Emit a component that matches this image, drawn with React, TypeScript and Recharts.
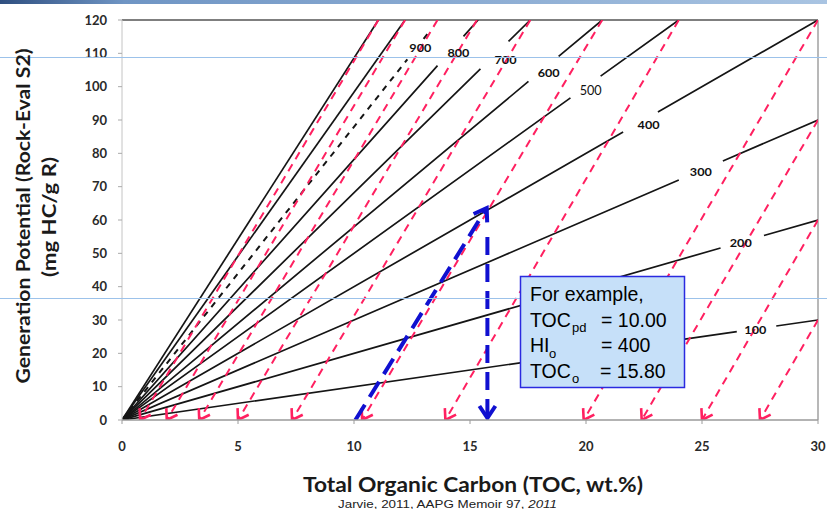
import React from 'react';
import { ComposedChart, Line, XAxis, YAxis, ReferenceLine, Scatter } from 'recharts';

// ---- axis ticks ----
const xTicks = [0, 5, 10, 15, 20, 25, 30];
const yTicks = [0, 10, 20, 30, 40, 50, 60, 70, 80, 90, 100, 110, 120];

// ---- HI lines (from origin to where each meets the frame) ----
const hiNames = ['100', '200', '300', '400', '500', '600', '700', '800', '900', '1000', '1100'];
const hiEndX = [30, 30, 30, 30, 24, 20.7, 17.6, 15.35, 13.3, 12.2, 11.05];
const hiEndY = [30, 60, 90, 120, 120, 120, 120, 120, 117, 120, 120];
const hiGapStart = [26.5, 25.8, 24.0, 21.6, 19.33, 17.52, 15.45, 13.6, 12.3, null, null];
const hiGapEnd = [28.2, 27.67, 25.9, 23.1, 20.63, 18.82, 16.66, 14.72, 13.0, null, null];
const hiDashed = ['900'];

// ---- HI line labels ----
const hiLabelText = ['100', '200', '300', '400', '500', '600', '700', '800', '900'];
const hiLabelX = [27.3, 26.67, 24.95, 22.7, 20.2, 18.39, 16.53, 14.5, 12.86];
const hiLabelY = [27.0, 53.1, 74.4, 88.5, 99.0, 104.1, 108.0, 110.1, 111.6];

// ---- red conversion lines: from frame point down to TOCpd on the x-axis ----
const redTopX = [11.05, 12.2, 13.6, 15.3, 17.6, 20.7, 24.0, 30, 30, 30, 30];
const redTopY = [120, 120, 120, 120, 120, 120, 120, 120, 90, 60, 30];
const redBaseX = [0.78, 1.93, 3.33, 5.0, 7.33, 10.35, 13.94, 19.9, 22.4, 25.0, 27.5];

// ---- worked example (blue) ----
const exampleUp = [
  { x: 10.06, y: 0 },
  { x: 15.72, y: 63.6 },
];
const exampleDown = [
  { x: 15.75, y: 54.9 },
  { x: 15.75, y: 0.6 },
];

const hiSeries = hiNames.map((name, i) => {
  const ex = hiEndX[i];
  const ey = hiEndY[i];
  const k = ey / ex;
  const gs = hiGapStart[i];
  const ge = hiGapEnd[i];
  const pts: any[] = [{ x: 0, y: 0 }];
  if (gs !== null && ge !== null) {
    pts.push({ x: gs, y: gs * k });
    pts.push({ x: (gs + ge) / 2, y: null });
    pts.push({ x: ge, y: ge * k });
  }
  pts.push({ x: ex, y: ey });
  return { name, data: pts, dashed: hiDashed.includes(name) };
});

const redSeries = redBaseX.map((bx, i) => ({
  name: 'red' + i,
  data: [
    { x: redTopX[i], y: redTopY[i] },
    { x: bx, y: 0 },
  ],
}));

const labelData = hiLabelText.map((t, i) => ({ x: hiLabelX[i], y: hiLabelY[i], label: t }));

const renderLabel = (p: any) => {
  const big = p.payload.label === '500';
  return (
    <text
      x={p.cx}
      y={p.cy}
      textAnchor="middle"
      dominantBaseline="central"
      fontFamily="Lato, 'DejaVu Sans', sans-serif"
      fontSize={big ? 13 : 10.5}
      fontWeight={big ? 400 : 700}
      fill="#111"
      textLength={22}
      lengthAdjust="spacingAndGlyphs"
    >
      {p.payload.label}
    </text>
  );
};

const tickFont = { fill: '#2a2a2a', fontSize: 13, fontWeight: 700, fontFamily: 'Lato, sans-serif' };

export default function App() {
  return (
    <div style={{ position: 'absolute', left: 0, top: 0, width: 827, height: 509, background: '#fff', overflow: 'hidden' }}>
      <ComposedChart width={827} height={509} margin={{ top: 20, right: 9, bottom: 59, left: 62 }}>
        <XAxis
          type="number"
          dataKey="x"
          domain={[0, 30]}
          ticks={xTicks}
          interval={0}
          allowDataOverflow
          height={30}
          tickSize={4}
          tickMargin={18}
          axisLine={{ stroke: '#9a9a9a', strokeWidth: 1.5 }}
          tickLine={{ stroke: '#9a9a9a' }}
          tick={tickFont}
        />
        <YAxis
          type="number"
          dataKey="y"
          domain={[0, 120]}
          ticks={yTicks}
          interval={0}
          allowDataOverflow
          width={60}
          tickSize={4}
          tickMargin={11}
          axisLine={{ stroke: '#c4c4c4' }}
          tickLine={{ stroke: '#aaa' }}
          tick={tickFont}
        />
        <ReferenceLine y={120} stroke="#555" strokeWidth={1.5} />
        <ReferenceLine x={30} stroke="#a0a0a0" strokeWidth={1.5} />
        {hiSeries.map((s) => (
          <Line
            key={s.name}
            data={s.data}
            dataKey="y"
            type="linear"
            stroke="#151515"
            strokeWidth={s.dashed ? 2 : 1.7}
            strokeDasharray={s.dashed ? '6 6' : undefined}
            dot={false}
            activeDot={false}
            connectNulls={false}
            isAnimationActive={false}
            legendType="none"
          />
        ))}
        {redSeries.map((s) => (
          <Line
            key={s.name}
            data={s.data}
            dataKey="y"
            type="linear"
            stroke="#ff2060"
            strokeWidth={2}
            strokeDasharray="8 6"
            markerEnd="url(#redArrow)"
            dot={false}
            activeDot={false}
            isAnimationActive={false}
            legendType="none"
          />
        ))}
        <Line
          data={exampleUp}
          dataKey="y"
          type="linear"
          stroke="#1010d0"
          strokeWidth={4}
          strokeDasharray="18 9"
          markerEnd="url(#blueArrow)"
          dot={false}
          activeDot={false}
          isAnimationActive={false}
          legendType="none"
        />
        <Line
          data={exampleDown}
          dataKey="y"
          type="linear"
          stroke="#1010d0"
          strokeWidth={4}
          strokeDasharray="18 9"
          markerEnd="url(#blueArrow)"
          dot={false}
          activeDot={false}
          isAnimationActive={false}
          legendType="none"
        />
        <Scatter data={labelData} shape={renderLabel} isAnimationActive={false} legendType="none" />
      </ComposedChart>

      <svg
        width={827}
        height={509}
        style={{ position: 'absolute', left: 0, top: 0, pointerEvents: 'none' }}
      >
        <defs>
          <marker id="redArrow" viewBox="-14 -9 16 18" refX={0} refY={0} markerWidth={16} markerHeight={18} orient="auto" markerUnits="userSpaceOnUse">
            <path d="M-10,-6.5 L0,0 L-10,6.5" fill="none" stroke="#ff2060" strokeWidth={2.6} />
          </marker>
          <marker id="blueArrow" viewBox="-18 -12 22 24" refX={0} refY={0} markerWidth={22} markerHeight={24} orient="auto" markerUnits="userSpaceOnUse">
            <path d="M-12,-8 L0,0 L-12,8" fill="none" stroke="#1010d0" strokeWidth={4} />
          </marker>
          <linearGradient id="topBar" x1="0" y1="0" x2="1" y2="0">
            <stop offset="0" stopColor="#2f4f80" />
            <stop offset="0.15" stopColor="#6f95c4" />
            <stop offset="1" stopColor="#a9c4e2" />
          </linearGradient>
        </defs>

        <rect x={0} y={0} width={827} height={4} fill="url(#topBar)" />
        <line x1={0} y1={57.5} x2={827} y2={57.5} stroke="#9cc2ea" strokeWidth={1} />
        <line x1={0} y1={298.5} x2={827} y2={298.5} stroke="#9cc2ea" strokeWidth={1} />

        <text
          transform="translate(30,216) rotate(-90)"
          textAnchor="middle"
          fontFamily="Lato, sans-serif"
          fontWeight={700}
          fontSize={19}
          fill="#1a1a1a"
          textLength={335}
          lengthAdjust="spacingAndGlyphs"
        >
          Generation Potential (Rock-Eval S2)
        </text>
        <text
          transform="translate(56,217) rotate(-90)"
          textAnchor="middle"
          fontFamily="Lato, sans-serif"
          fontWeight={700}
          fontSize={18}
          fill="#1a1a1a"
          textLength={120}
          lengthAdjust="spacingAndGlyphs"
        >
          (mg HC/g R)
        </text>
        <text
          x={473}
          y={492}
          textAnchor="middle"
          fontFamily="Lato, sans-serif"
          fontWeight={700}
          fontSize={20}
          fill="#1a1a1a"
          textLength={340}
          lengthAdjust="spacingAndGlyphs"
        >
          Total Organic Carbon (TOC, wt.%)
        </text>
        <text x={338} y={507.5} fontFamily="'Liberation Sans', Arial, sans-serif" fontSize={11.5} fill="#222" textLength={219} lengthAdjust="spacingAndGlyphs">
          Jarvie, 2011, AAPG Memoir 97, <tspan fontStyle="italic">2011</tspan>
        </text>

        <rect x={520.5} y={276.5} width={164} height={111} fill="#c6e0f9" stroke="#2a2ae0" strokeWidth={1.5} />
        <g fontFamily="'Liberation Sans', Arial, sans-serif" fill="#000">
          <text x={530} y={300.5} fontSize={19.5}>For example,</text>
          <text x={530} y={326.5} fontSize={19.5}>TOC</text>
          <text x={572} y={332} fontSize={13}>pd</text>
          <text x={601} y={326.5} fontSize={19.5}>= 10.00</text>
          <text x={530} y={352} fontSize={19.5}>HI</text>
          <text x={549} y={357.5} fontSize={13}>o</text>
          <text x={601} y={352} fontSize={19.5}>= 400</text>
          <text x={530} y={377.5} fontSize={19.5}>TOC</text>
          <text x={572} y={383} fontSize={13}>o</text>
          <text x={600} y={377.5} fontSize={19.5}>= 15.80</text>
        </g>
      </svg>
    </div>
  );
}
